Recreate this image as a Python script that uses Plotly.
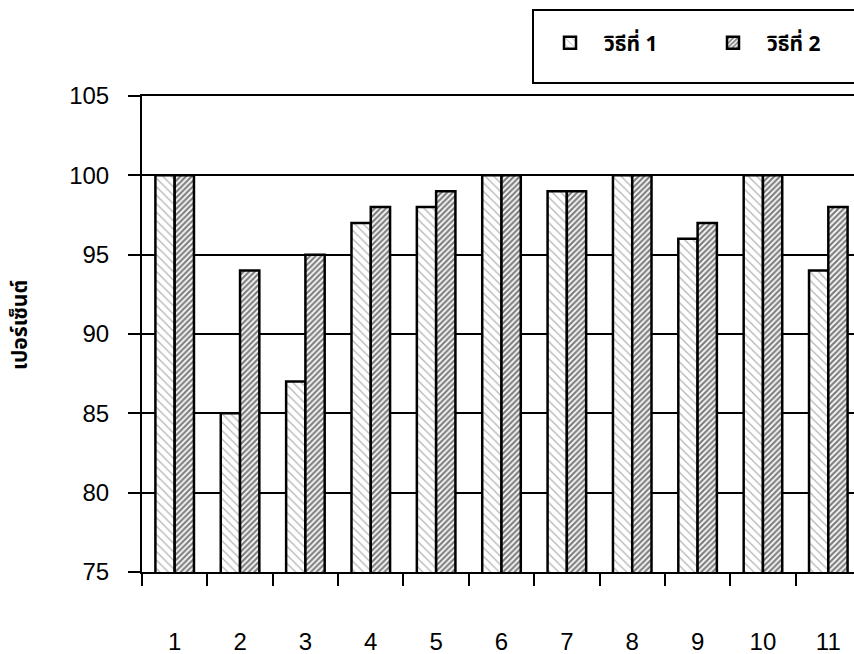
import plotly.graph_objects as go

categories = ["1", "2", "3", "4", "5", "6", "7", "8", "9", "10", "11"]
method1 = [100, 85, 87, 97, 98, 100, 99, 100, 96, 100, 94]
method2 = [100, 94, 95, 98, 99, 100, 99, 100, 97, 100, 98]
series_names = ["วิธีที่ 1", "วิธีที่ 2"]
y_title = "เปอร์เซ็นต์"

W, H = 854, 654
L, R, T, B = 142, 0, 96, 82
pw = W - L - R
ph = H - T - B

fig = go.Figure()
fig.add_trace(go.Bar(
    x=categories, y=method1, name=series_names[0],
    marker=dict(color="white", line=dict(color="black", width=2.5),
                pattern=dict(shape="\\", fgcolor="#666", bgcolor="white", size=6, solidity=0.2)),
))
fig.add_trace(go.Bar(
    x=categories, y=method2, name=series_names[1],
    marker=dict(color="white", line=dict(color="black", width=2.5),
                pattern=dict(shape="/", fgcolor="black", bgcolor="white", size=4, solidity=0.55)),
))

font_main = "Liberation Sans, Arial, sans-serif"
thai_font = "Noto Sans Thai, Loma, Garuda, DejaVu Sans, sans-serif"

fig.update_layout(
    width=W, height=H,
    margin=dict(l=L, r=R, t=T, b=B, autoexpand=False),
    plot_bgcolor="white", paper_bgcolor="white",
    barmode="group", bargap=0.41, bargroupgap=0,
    font=dict(family=font_main, size=24, color="black"),
    showlegend=True,
    legend=dict(orientation="h", x=(536 - L) / pw, y=1 + (T - 43) / ph,
                xanchor="left", yanchor="middle",
                font=dict(size=21, family=thai_font, weight=700),
                bgcolor="rgba(0,0,0,0)", itemwidth=58, entrywidth=90,
                traceorder="normal"),
    shapes=[dict(type="rect", xref="paper", yref="paper",
                 x0=(533 - L) / pw, x1=(862 - L) / pw,
                 y0=1 + (T - 83) / ph, y1=1 + (T - 10) / ph,
                 line=dict(color="black", width=2), fillcolor="rgba(0,0,0,0)")],
    annotations=[dict(text=y_title, xref="paper", yref="paper",
                      x=(20 - L) / pw, y=(H - B - 325) / ph, textangle=-90,
                      showarrow=False, xanchor="center", yanchor="middle",
                      font=dict(size=21, family=thai_font, weight=700))],
)

fig.update_xaxes(
    type="category", range=[-0.5, -0.5 + 11 * pw / 719],
    tickson="boundaries", ticks="outside", ticklen=12, tickwidth=2, tickcolor="black",
    showline=True, linecolor="black", linewidth=2, mirror=True,
    showgrid=False, ticklabelstandoff=47, automargin=False,
    tickfont=dict(size=24),
)
fig.update_yaxes(
    range=[75, 105], tickvals=[75, 80, 85, 90, 95, 100, 105],
    ticks="outside", ticklen=12, tickwidth=2, tickcolor="black",
    showline=True, linecolor="black", linewidth=2,
    showgrid=True, gridcolor="black", gridwidth=1.5,
    zeroline=False, ticklabelstandoff=14, automargin=False,
    tickfont=dict(size=24),
)

fig.write_html("out.html", config={"displayModeBar": False},
               post_script="document.body.style.margin='0';document.body.style.overflow='hidden';")
